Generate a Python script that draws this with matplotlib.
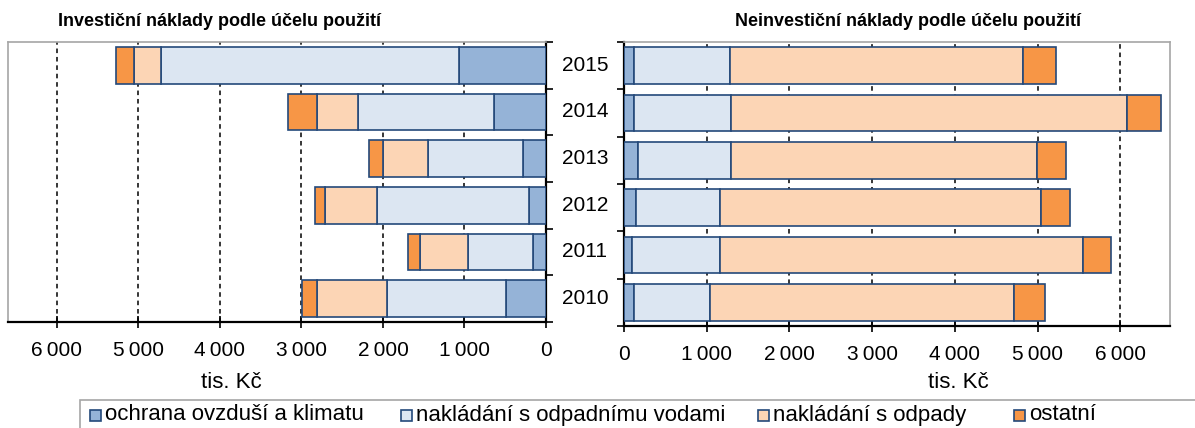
import numpy as np
import matplotlib
matplotlib.use("Agg")
import matplotlib.pyplot as plt
from matplotlib.patches import Rectangle
from matplotlib.transforms import blended_transform_factory
from matplotlib.ticker import FuncFormatter

plt.rcParams['font.family'] = ['Liberation Sans', 'DejaVu Sans']

years = ['2010', '2011', '2012', '2013', '2014', '2015']
categories = ['ochrana ovzduší a klimatu', 'nakládání s odpadnímu vodami',
              'nakládání s odpady', 'ostatní']

# investiční náklady (tis. Kč), years 2010..2015
inv_ovzdusi = [491, 158, 210, 276, 636, 1066]
inv_vody = [1465, 794, 1864, 1171, 1675, 3658]
inv_odpady = [855, 592, 640, 557, 500, 333]
inv_ostatni = [184, 145, 123, 162, 360, 219]

# neinvestiční náklady (tis. Kč), years 2010..2015
neinv_ovzdusi = [124, 96, 142, 165, 124, 124]
neinv_vody = [914, 1061, 1015, 1134, 1175, 1152]
neinv_odpady = [3673, 4394, 3880, 3691, 4775, 3549]
neinv_ostatni = [372, 335, 354, 349, 422, 395]

colors = ['#95B3D7', '#DCE6F2', '#FCD5B5', '#F79646']
edge = '#24497A'
frame_grey = '#A6A6A6'


def thousands(v, pos):
    return '{:,.0f}'.format(v).replace(',', '\u2009')


def draw_panel(ax, series, inverted):
    y = np.arange(len(years))
    left = np.zeros(len(years))
    for vals, col in zip(series, colors):
        ax.barh(y, vals, left=left, height=0.78, color=col, edgecolor=edge,
                linewidth=1.2, zorder=3)
        left += np.array(vals)
    ax.set_ylim(-0.5, len(years) - 0.5)
    ax.set_xlim((6600, 0) if inverted else (0, 6600))
    ax.set_xticks(np.arange(0, 7000, 1000))
    ax.xaxis.set_major_formatter(FuncFormatter(thousands))
    for g in range(1000, 7000, 1000):
        ax.axvline(g, color='black', linestyle=(0, (3, 2.5)), linewidth=1.1, zorder=1)
    ax.set_yticks(np.arange(-0.5, len(years)))
    ax.set_yticklabels([])
    ax.tick_params(axis='x', direction='inout', length=8, width=1.2, pad=10,
                   labelsize=15, colors='black')
    ax.tick_params(axis='y', direction='out', length=5, width=1.2)
    near, far = ('right', 'left') if inverted else ('left', 'right')
    ax.yaxis.set_ticks_position(near)
    for s in (near, 'bottom'):
        ax.spines[s].set_color('black')
        ax.spines[s].set_linewidth(1.6)
    for s in (far, 'top'):
        ax.spines[s].set_color(frame_grey)
        ax.spines[s].set_linewidth(1.2)


fig = plt.figure(figsize=(11.95, 4.28), dpi=100)
ax_inv = fig.add_axes([0.0067, 0.2477, 0.4502, 0.6542])
ax_neinv = fig.add_axes([0.5222, 0.2383, 0.4569, 0.6636])

draw_panel(ax_inv, [inv_ovzdusi, inv_vody, inv_odpady, inv_ostatni], inverted=True)
draw_panel(ax_neinv, [neinv_ovzdusi, neinv_vody, neinv_odpady, neinv_ostatni], inverted=False)

# year labels between the two panels
trans = blended_transform_factory(ax_inv.transAxes, ax_inv.transData)
for i, yr in enumerate(years):
    ax_inv.text(1.0725, i, yr, transform=trans, ha='center', va='center', fontsize=15)

fig.text(231 / 1195, 1 - 382 / 428, 'tis. Kč', ha='center', va='center', fontsize=16)
fig.text(958 / 1195, 1 - 382 / 428, 'tis. Kč', ha='center', va='center', fontsize=16)

fig.text(220 / 1195, 1 - 22 / 428, 'Investiční náklady podle účelu použití', ha='center',
         va='center', fontsize=13, fontweight='bold')
fig.text(908 / 1195, 1 - 22 / 428, 'Neinvestiční náklady podle účelu použití', ha='center',
         va='center', fontsize=13, fontweight='bold')

# legend, boxed, running off the bottom edge
fig.patches.append(Rectangle((80 / 1195, -0.05), 1.0, 0.05 + 28 / 428,
                             transform=fig.transFigure, facecolor='none',
                             edgecolor=frame_grey, linewidth=1.2))
legend_x = [90, 401, 758, 1014]
legend_y = 1 - 415 / 428
for x, col, name in zip(legend_x, colors, categories):
    fig.patches.append(Rectangle((x / 1195, legend_y - 5.5 / 428), 11 / 1195, 11 / 428,
                                 transform=fig.transFigure, facecolor=col,
                                 edgecolor=edge, linewidth=1.2))
    fig.text((x + 15) / 1195, legend_y, name, ha='left', va='center', fontsize=16)

fig.savefig('out.png', dpi=100)
